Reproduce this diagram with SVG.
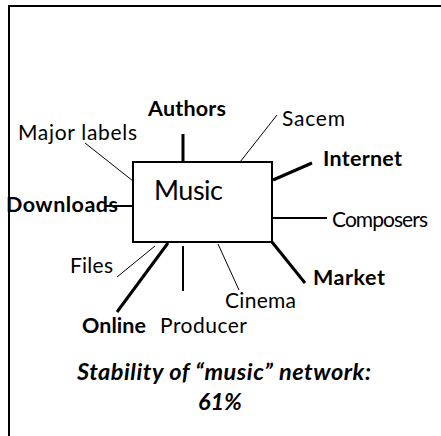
<svg xmlns="http://www.w3.org/2000/svg" width="441" height="436" viewBox="0 0 441 436">
<style>
text{font-family:Lato,"Liberation Sans",sans-serif;fill:#000;font-size:21px}
.b{font-weight:bold;font-size:21.5px}
.bi{font-weight:bold;font-style:italic;font-size:23.5px}
.big{font-size:27px}
.thin{stroke:#000;stroke-width:1;fill:none}
.mid{stroke:#000;stroke-width:2;fill:none}
.thick{stroke:#000;stroke-width:3;fill:none}
</style>
<rect width="441" height="436" fill="#fff"/>
<path d="M9 445 V6 H450" stroke="#000" stroke-width="2" fill="none"/>
<g id="connectors">
<line class="thick" x1="183" y1="134" x2="183" y2="162"/>
<line class="thin" x1="85" y1="143" x2="133" y2="181"/>
<line class="mid" x1="105" y1="206" x2="133" y2="206"/>
<line class="thin" x1="277" y1="115" x2="240" y2="162"/>
<line class="thick" x1="273" y1="180" x2="312" y2="163"/>
<line class="mid" x1="273" y1="218" x2="327" y2="218"/>
<line class="thin" x1="117" y1="277" x2="155" y2="246"/>
<line class="thick" x1="168" y1="243" x2="117" y2="312"/>
<line class="mid" x1="183" y1="246" x2="183" y2="291"/>
<line class="thin" x1="218" y1="244" x2="239" y2="290"/>
<line class="thick" x1="272" y1="242" x2="305" y2="283"/>
</g>
<g id="music">
<rect x="133" y="162" width="139" height="80" fill="#fff" stroke="#000" stroke-width="2"/>
<text class="big" x="154" y="200" textLength="69">Music</text>
</g>
<g id="authors"><text class="b" x="148" y="116" textLength="78">Authors</text></g>
<g id="major-labels"><text x="18" y="140" textLength="119">Major labels</text></g>
<g id="downloads"><text class="b" x="6" y="212" textLength="112">Downloads</text></g>
<g id="sacem"><text x="282" y="126" textLength="63">Sacem</text></g>
<g id="internet"><text class="b" x="323" y="166" textLength="79">Internet</text></g>
<g id="composers"><text x="332" y="227" textLength="96">Composers</text></g>
<g id="files"><text x="70" y="273" textLength="43">Files</text></g>
<g id="online"><text class="b" x="82" y="333" textLength="64">Online</text></g>
<g id="producer"><text x="160" y="333" textLength="87">Producer</text></g>
<g id="cinema"><text x="225" y="308" textLength="71">Cinema</text></g>
<g id="market"><text class="b" x="313" y="285" textLength="72">Market</text></g>
<text class="bi" x="77" y="380" textLength="294">Stability of “music” network:</text>
<text class="bi" x="198" y="410" textLength="44">61%</text>
</svg>
